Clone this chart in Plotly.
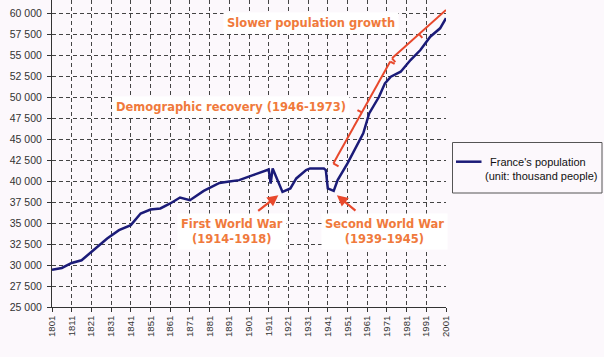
import plotly.graph_objects as go

# ---- data ----
years = [1801, 1806, 1811, 1816, 1822, 1829, 1835, 1841, 1846, 1851,
         1856, 1861, 1866, 1871, 1878, 1886, 1891, 1896, 1903, 1911,
         1912, 1913, 1918, 1922, 1925, 1930, 1932, 1939, 1940, 1941,
         1944, 1946, 1951, 1954, 1959, 1962, 1967, 1970, 1973, 1978,
         1983, 1988, 1993, 1998, 2001]
population = [29450, 29650, 30250, 30570, 31760, 33160, 34150, 34750, 36140, 36620,
              36740, 37340, 38050, 37730, 38840, 39790, 39950, 40120, 40710, 41390,
              39720, 41510, 38720, 39130, 40320, 41310, 41510, 41510, 41310, 39130,
              38840, 40120, 42110, 43490, 45690, 48070, 50050, 51650, 52440, 53040,
              54430, 55620, 57210, 58210, 59420]

y_ticks = list(range(25000, 60001, 2500))
y_tick_text = [f"{v:,}".replace(",", " ") for v in y_ticks]
x_ticks = list(range(1801, 2002, 10))
x_tick_text = [str(v) for v in x_ticks]

series_name = "France's population"
series_unit = "(unit: thousand people)"

# annotation content
label_slower = "Slower population growth"
label_recovery = "Demographic recovery (1946-1973)"
label_ww1 = "First World War<br>(1914-1918)"
label_ww2 = "Second World War<br>(1939-1945)"

# bracket lines (year, value) start/end
recovery_bracket = [(1943.8, 42110), (1972.7, 54250)]
slower_bracket = [(1973.6, 54630), (2001.0, 60400)]

# ---- layout geometry ----
W, H = 604, 357
ML, MR, MT, MB = 52, 158, 0, 50
PW, PH = W - ML - MR, H - MT - MB
Y0 = 25000
UNITS_PER_PX = 35000 / 293.7
Y1 = Y0 + PH * UNITS_PER_PX
X0, X1 = 1801, 2001
YEARS_PER_PX = (X1 - X0) / PW

BG = "#fcf8fc"
NAVY = "#1b1b78"
ORANGE = "#f07a3c"
RED = "#e8482c"
GRID = "#444444"

fig = go.Figure()
fig.add_trace(go.Scatter(
    x=years, y=population, mode="lines", name=series_name,
    line=dict(color=NAVY, width=2.5), showlegend=False,
))

shapes = []
annotations = []


def bracket(p0, p1, ticks):
    (xa, ya), (xb, yb) = p0, p1
    shapes.append(dict(type="line", xref="x", yref="y", x0=xa, y0=ya, x1=xb, y1=yb,
                       line=dict(color=RED, width=2)))
    dxp = (xb - xa) / YEARS_PER_PX
    dyp = (yb - ya) / UNITS_PER_PX
    n = (dxp ** 2 + dyp ** 2) ** 0.5
    ux, uy = dxp / n, dyp / n
    px, py = uy, -ux
    for t, s in ticks:
        bx = xa + (xb - xa) * t
        by = ya + (yb - ya) * t
        shapes.append(dict(type="line", xref="x", yref="y", x0=bx, y0=by,
                           x1=bx + px * s * YEARS_PER_PX, y1=by + py * s * UNITS_PER_PX,
                           line=dict(color=RED, width=2)))


bracket(*recovery_bracket, ticks=[(0.0, 6), (0.5, -5), (1.0, 5)])
bracket(*slower_bracket, ticks=[(0.0, 5), (0.5, 5), (1.0, 4)])


def label(text, x, y):
    annotations.append(dict(text=f"<b>{text}</b>", x=x, y=y, xref="x", yref="y",
                            xanchor="center", yanchor="middle",
                            showarrow=False, bgcolor="white", borderpad=3,
                            font=dict(family="DejaVu Sans", size=11.5, color=ORANGE)))


label(label_slower, 1932.5, 58840)
label(label_recovery, 1892.1, 48860)
label(label_ww1, 1892.2, 33950)
label(label_ww2, 1969.9, 33950)


def arrow(head, tail):
    annotations.append(dict(text="", x=head[0], y=head[1], ax=tail[0], ay=tail[1],
                            xref="x", yref="y", axref="x", ayref="y", showarrow=True,
                            arrowhead=2, arrowsize=1, arrowwidth=2.2, arrowcolor=RED))


arrow((1915.9, 38330), (1904.9, 36330))
arrow((1945.6, 38330), (1955.8, 36330))


# ---- custom legend (pixel positions converted to paper) ----
def ppx(p):
    return (p - ML) / PW


def ppy(p):
    return (MT + PH - p) / PH


shapes.append(dict(type="rect", xref="paper", yref="paper",
                   x0=ppx(452.5), x1=ppx(602), y0=ppy(193), y1=ppy(142.5),
                   line=dict(color="#555555", width=1), fillcolor=BG, layer="above"))
shapes.append(dict(type="line", xref="paper", yref="paper",
                   x0=ppx(456), x1=ppx(481.5), y0=ppy(161.7), y1=ppy(161.7),
                   line=dict(color=NAVY, width=2.5), layer="above"))
annotations.append(dict(text=series_name, xref="paper", yref="paper",
                        x=ppx(538), y=ppy(162), xanchor="center", yanchor="middle",
                        showarrow=False,
                        font=dict(family="Liberation Sans", size=11, color="#111111")))
annotations.append(dict(text=series_unit, xref="paper", yref="paper",
                        x=ppx(541.5), y=ppy(176), xanchor="center", yanchor="middle",
                        showarrow=False,
                        font=dict(family="Liberation Sans", size=11, color="#111111")))

fig.update_layout(
    width=W, height=H,
    margin=dict(l=ML, r=MR, t=MT, b=MB, pad=0),
    paper_bgcolor=BG, plot_bgcolor=BG,
    shapes=shapes, annotations=annotations,
    showlegend=False,
    xaxis=dict(range=[X0, X1], tickmode="array", tickvals=x_ticks, ticktext=x_tick_text,
               tickangle=-90, ticks="outside", ticklen=4, tickcolor="#333333",
               showline=True, linecolor="#333333", linewidth=1,
               showgrid=True, gridcolor=GRID, gridwidth=1, griddash="4px,3px",
               zeroline=False,
               tickfont=dict(family="Liberation Sans", size=9.5, color="#333333")),
    yaxis=dict(range=[Y0, Y1], tickmode="array", tickvals=y_ticks, ticktext=y_tick_text,
               ticks="outside", ticklen=4, tickcolor="#333333", ticklabelstandoff=3,
               showline=True, linecolor="#333333", linewidth=1,
               showgrid=True, gridcolor=GRID, gridwidth=1, griddash="4px,3px",
               zeroline=False,
               tickfont=dict(family="Liberation Sans", size=10.5, color="#333333")),
)

fig.write_html(
    "out.html",
    config={"displayModeBar": False},
    post_script="document.body.style.margin='0px';document.body.style.background='"
    + BG + "';",
)
